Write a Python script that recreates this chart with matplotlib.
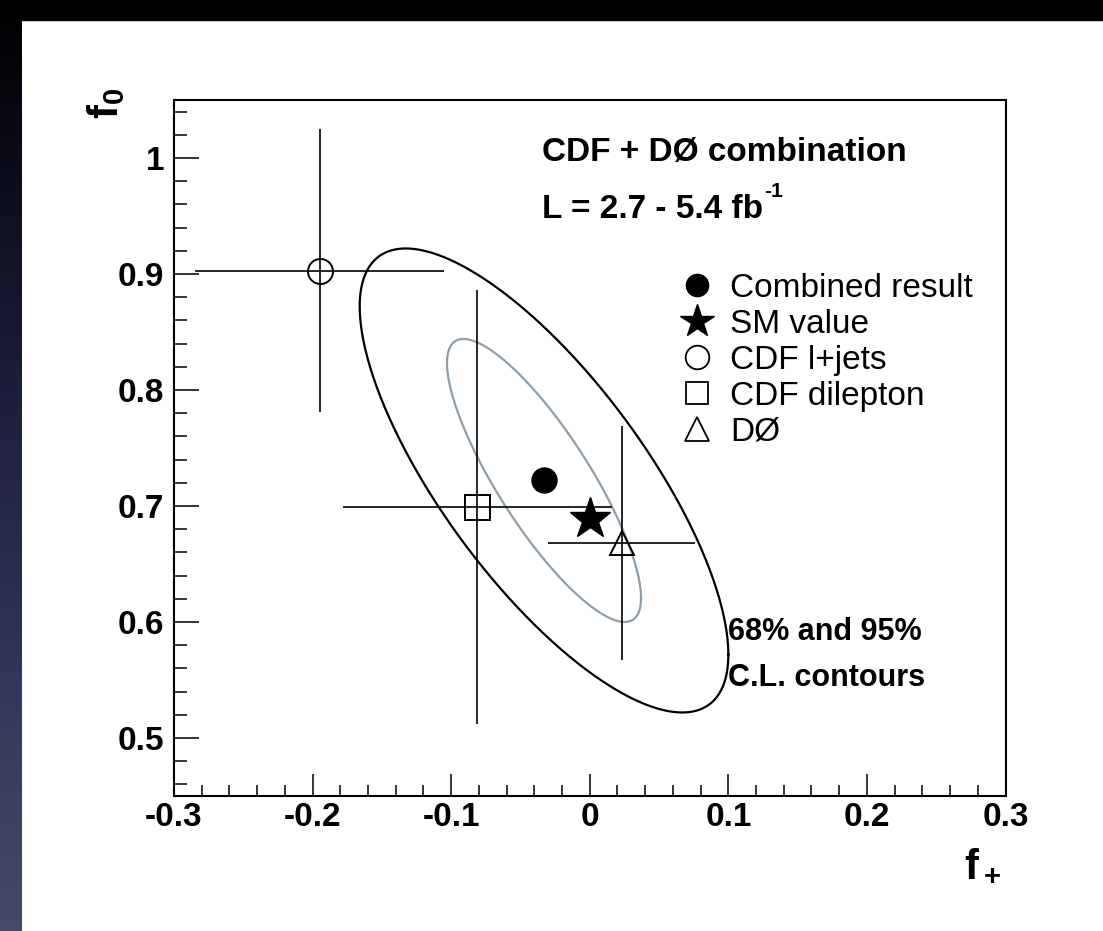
import numpy as np
import matplotlib
matplotlib.use("Agg")
import matplotlib.pyplot as plt
from matplotlib.lines import Line2D
from matplotlib.ticker import MultipleLocator, FixedLocator, FixedFormatter

plt.rcParams['font.family'] = ['Liberation Sans', 'DejaVu Sans']
plt.rcParams['mathtext.fontset'] = 'custom'
plt.rcParams['mathtext.rm'] = 'Liberation Sans'
plt.rcParams['mathtext.bf'] = 'Liberation Sans:bold'
plt.rcParams['axes.unicode_minus'] = False

# measurements (f+, f0) with symmetric errors
names = ["CDF l+jets", "CDF dilepton", "DØ"]
fplus = [-0.195, -0.081, 0.023]
fzero = [0.903, 0.699, 0.668]
fplus_err = [0.090, 0.097, 0.053]
fzero_err = [0.122, 0.187, 0.101]
markers = ["o", "s", "^"]

combined = (-0.033, 0.722)
sm_value = (0.0, 0.689)

# contours: half extent in f+, half extent in f0, correlation
contour_labels = ["68%", "95%"]
contour_dx = [0.070, 0.133]
contour_dy = [0.122, 0.200]
contour_rho = [-0.83, -0.75]
contour_colors = ["#8e9eaa", "black"]

xticks = [-0.3, -0.2, -0.1, 0.0, 0.1, 0.2, 0.3]
xticklabels = ["-0.3", "-0.2", "-0.1", "0", "0.1", "0.2", "0.3"]
yticks = [0.5, 0.6, 0.7, 0.8, 0.9, 1.0]
yticklabels = ["0.5", "0.6", "0.7", "0.8", "0.9", "1"]

W, H = 1103, 931
fig = plt.figure(figsize=(W / 100, H / 100), dpi=100)
fig.patch.set_facecolor("white")

# dark slide border (top strip + left gradient)
band = fig.add_axes([0, 0, 22 / W, 1])
grad = np.linspace(0, 1, 256).reshape(-1, 1)
band.imshow(grad, aspect="auto", cmap=matplotlib.colors.LinearSegmentedColormap.from_list(
    "b", ["#000000", "#161830", "#2e3152", "#474a66"]), origin="upper", extent=[0, 1, 0, 1])
band.axis("off")
fig.patches.append(plt.Rectangle((0, 1 - 20 / H), 1, 20 / H, transform=fig.transFigure,
                                 color="black", zorder=0))

ax = fig.add_axes([174 / W, (H - 796) / H, (1005.5 - 174) / W, (796 - 100) / H])
ax.set_xlim(-0.3, 0.3)
ax.set_ylim(0.45, 1.05)

# contours
t = np.linspace(0, 2 * np.pi, 400)
for dx, dy, rho, c in zip(contour_dx, contour_dy, contour_rho, contour_colors):
    ex = combined[0] + dx * np.cos(t)
    ey = combined[1] + dy * (rho * np.cos(t) + np.sqrt(1 - rho ** 2) * np.sin(t))
    ax.plot(ex, ey, color=c, lw=1.6, zorder=2)

for x, y, xe, ye, m in zip(fplus, fzero, fplus_err, fzero_err, markers):
    ax.errorbar(x, y, xerr=xe, yerr=ye, fmt=m, color="black", mfc="none", mec="black",
                ms=18 if m != "^" else 17, mew=1.4, elinewidth=1.2, capsize=0, zorder=3)

ax.plot(*combined, "o", color="black", ms=18, zorder=4)
ax.plot(*sm_value, "*", color="black", ms=31, zorder=4)

# axes styling
for s in ax.spines.values():
    s.set_linewidth(1.5)
ax.xaxis.set_major_locator(FixedLocator(xticks))
ax.xaxis.set_major_formatter(FixedFormatter(xticklabels))
ax.yaxis.set_major_locator(FixedLocator(yticks))
ax.yaxis.set_major_formatter(FixedFormatter(yticklabels))
ax.xaxis.set_minor_locator(MultipleLocator(0.02))
ax.yaxis.set_minor_locator(MultipleLocator(0.02))
ax.tick_params(axis="x", which="major", direction="in", length=16, width=1.1, pad=4,
               labelsize=24, top=False)
ax.tick_params(axis="x", which="minor", direction="in", length=8, width=1.1, top=False)
ax.tick_params(axis="y", which="major", direction="in", length=18, width=1.1, pad=7,
               labelsize=24, right=False)
ax.tick_params(axis="y", which="minor", direction="in", length=9, width=1.1, right=False)
for lab in ax.get_xticklabels() + ax.get_yticklabels():
    lab.set_fontweight("bold")

fig.text(1002 / W, (H - 866) / H, r"$\mathbf{f_+}$", fontsize=30, ha="right", va="center")
fig.text(106 / W, (H - 88) / H, r"$\mathbf{f_0}$", fontsize=30, rotation=90,
         ha="center", va="top")

ax.text(0.4426, 0.925, "CDF + DØ combination", transform=ax.transAxes, fontsize=24,
        fontweight="bold", va="center", ha="left")
lumi = ax.text(0.4426, 0.843, "L = 2.7 - 5.4 fb", transform=ax.transAxes,
               fontsize=24, fontweight="bold", va="center", ha="left")
ax.annotate("-1", xy=(1, 0.78), xycoords=lumi, xytext=(1, 0), textcoords="offset points",
            fontsize=15, fontweight="bold", ha="left", va="bottom")
ax.text(0.666, 0.2356, "68% and 95%", transform=ax.transAxes, fontsize=22,
        fontweight="bold", va="center", ha="left")
ax.text(0.666, 0.1695, "C.L. contours", transform=ax.transAxes, fontsize=22,
        fontweight="bold", va="center", ha="left")

handles = [
    Line2D([], [], ls="none", marker="o", color="black", ms=16),
    Line2D([], [], ls="none", marker="*", color="black", ms=25),
    Line2D([], [], ls="none", marker="o", mfc="none", mec="black", mew=1.3, ms=17),
    Line2D([], [], ls="none", marker="s", mfc="none", mec="black", mew=1.3, ms=16),
    Line2D([], [], ls="none", marker="^", mfc="none", mec="black", mew=1.3, ms=17),
]
labels = ["Combined result", "SM value"] + names
ax.legend(handles, labels, loc="upper left", bbox_to_anchor=(0.609, 0.7515),
          frameon=False, fontsize=24, handlelength=1.0, handletextpad=0.5,
          labelspacing=0.15, borderpad=0, borderaxespad=0, numpoints=1)

fig.savefig("out.png", dpi=100, facecolor=fig.get_facecolor())
